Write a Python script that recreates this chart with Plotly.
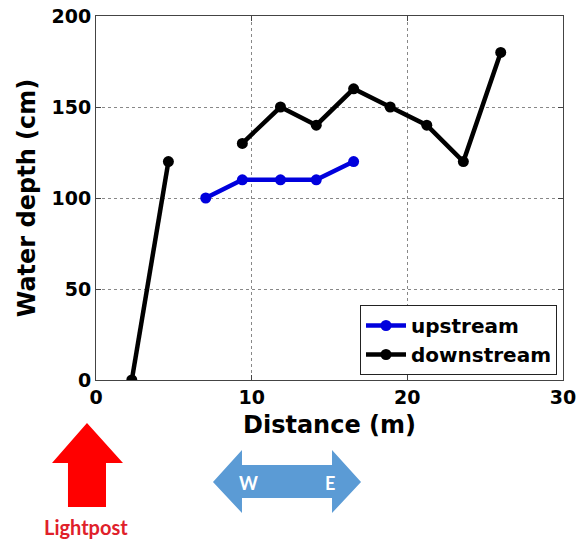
import plotly.graph_objects as go

# Data
up_x = [7.05, 9.4, 11.85, 14.15, 16.55]
up_y = [100, 110, 110, 110, 120]
down_x = [2.3, 4.65, None, 9.4, 11.85, 14.15, 16.55, 18.9, 21.25, 23.6, 26.0]
down_y = [0, 120, None, 130, 150, 140, 160, 150, 140, 120, 180]
x_ticks = [0, 10, 20, 30]
y_ticks = [0, 50, 100, 150, 200]

W, H = 578, 543
L, R, T, B = 96, 563, 16, 380  # plot area in pixels


def px(x, y):
    return (x - L) / (R - L), (B - y) / (B - T)


def path(points):
    s = ""
    for i, (x, y) in enumerate(points):
        u, v = px(x, y)
        s += ("M" if i == 0 else "L") + f"{u:.4f},{v:.4f} "
    return s + "Z"


fig = go.Figure()
fig.add_trace(go.Scatter(x=up_x, y=up_y, mode="lines+markers", name="upstream",
                         line=dict(color="#0000DD", width=4.5),
                         marker=dict(color="#0000DD", size=11)))
fig.add_trace(go.Scatter(x=down_x, y=down_y, mode="lines+markers", name="downstream",
                         line=dict(color="black", width=4.5),
                         marker=dict(color="black", size=11),
                         connectgaps=False))

font = "DejaVu Sans, sans-serif"
axis_common = dict(showline=True, linecolor="#444444", linewidth=1, mirror="ticks",
                   ticks="inside", ticklen=5, tickcolor="#444444",
                   showgrid=True, gridcolor="#888888", griddash="dot", gridwidth=1,
                   zeroline=False, automargin=False,
                   tickfont=dict(family=font, size=19, color="black", weight="bold"))

fig.update_xaxes(range=[0, 30], tickvals=x_ticks, **axis_common,
                 title=dict(text="Distance (m)", standoff=9,
                            font=dict(family=font, size=24, color="black", weight="bold")))
fig.update_yaxes(range=[0, 200], tickvals=y_ticks, **axis_common,
                 title=dict(text="Water depth (cm)", standoff=9,
                            font=dict(family=font, size=24, color="black", weight="bold")))

red_arrow = [(87, 423), (123, 463), (106, 463), (106, 507), (68, 507), (68, 463), (52, 463)]
blue_arrow = [(213, 482), (242, 450), (242, 465), (332, 465), (332, 450), (361, 482),
              (332, 513), (332, 498), (242, 498), (242, 513)]

fig.update_layout(
    width=W, height=H,
    margin=dict(l=L, r=W - R, t=T, b=H - B, pad=0, autoexpand=False),
    paper_bgcolor="white", plot_bgcolor="white",
    showlegend=True,
    legend=dict(x=px(557, 0)[0], y=px(0, 375)[1], xanchor="right", yanchor="bottom",
                bordercolor="#222222", borderwidth=1, bgcolor="white",
                font=dict(family=font, size=20, color="black", weight="bold"),
                itemwidth=40, tracegroupgap=0),
    shapes=[
        dict(type="path", xref="paper", yref="paper", path=path(red_arrow),
             fillcolor="#FF0000", line=dict(width=0)),
        dict(type="path", xref="paper", yref="paper", path=path(blue_arrow),
             fillcolor="#5B9BD5", line=dict(width=0)),
    ],
    annotations=[
        dict(text="Lightpost", xref="paper", yref="paper",
             x=px(86, 0)[0], y=px(0, 527)[1], showarrow=False,
             xanchor="center", yanchor="middle",
             font=dict(family="Lato, sans-serif", size=20, color="#E0202A", weight="bold")),
        dict(text="W", xref="paper", yref="paper",
             x=px(248, 0)[0], y=px(0, 483)[1], showarrow=False,
             xanchor="center", yanchor="middle",
             font=dict(family="Lato, sans-serif", size=18, color="white", weight="bold")),
        dict(text="E", xref="paper", yref="paper",
             x=px(330, 0)[0], y=px(0, 483)[1], showarrow=False,
             xanchor="center", yanchor="middle",
             font=dict(family="Lato, sans-serif", size=18, color="white", weight="bold")),
    ],
)

fig.write_html("out.html", config={"displayModeBar": False},
               post_script="document.body.style.margin='0px';document.body.style.overflow='hidden';")
